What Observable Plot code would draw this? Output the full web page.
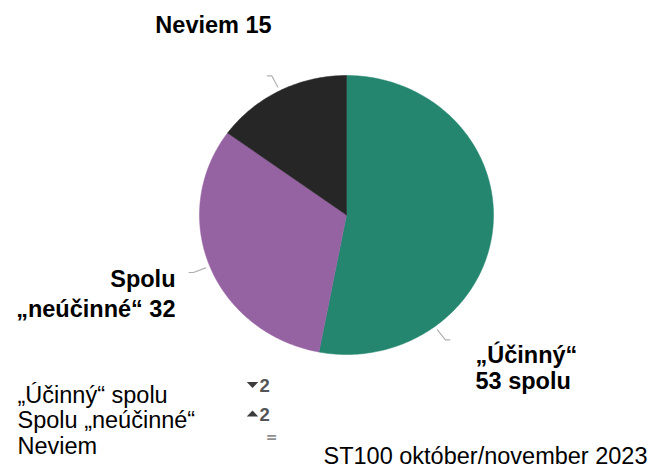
<!DOCTYPE html>
<html><head><meta charset="utf-8">
<script src="https://cdn.jsdelivr.net/npm/d3@7"></script>
<script src="https://cdn.jsdelivr.net/npm/@observablehq/plot@0.6"></script>
<style>body{margin:0;background:#fff} svg{display:block}</style>
</head><body><div id="chart"></div>
<script>
const categories = ["„Účinný“ spolu", "Spolu „neúčinné“", "Neviem"];
const values = [53, 32, 15];
const changeDirections = ["down", "up", "same"];
const changeValues = ["2", "2", "="];
const sliceLabels = ["„Účinný“\n53 spolu", "Spolu\n„neúčinné“ 32", "Neviem 15"];
const colors = ["#258670", "#9562a2", "#262626"];
const caption = "ST100 október/november 2023";
const leaderShare = [0.75, 0.5, 0.5];

const font = "'Liberation Sans', Arial, sans-serif";
const arcs = d3.pie().sort(null).value(d => d)(values);

const pts = [];
arcs.forEach((a, i) => {
  pts.push({k: categories[i], x: 0, y: 0});
  const n = Math.max(2, Math.ceil((a.endAngle - a.startAngle) / (Math.PI / 180)));
  for (let j = 0; j <= n; j++) {
    const t = a.startAngle + (a.endAngle - a.startAngle) * j / n;
    pts.push({k: categories[i], x: Math.sin(t), y: Math.cos(t)});
  }
  pts.push({k: categories[i], x: 0, y: 0});
});

const leaders = [];
arcs.forEach((a, i) => {
  const t = a.startAngle + (a.endAngle - a.startAngle) * leaderShare[i];
  const s = Math.sign(Math.sin(t));
  leaders.push({k: i, x: 1.03 * Math.sin(t), y: 1.03 * Math.cos(t)});
  leaders.push({k: i, x: 1.12 * Math.sin(t), y: 1.12 * Math.cos(t)});
  leaders.push({k: i, x: 1.12 * Math.sin(t) + 0.03 * s, y: 1.12 * Math.cos(t)});
});

const flatTriangle = dir => ({
  draw(c, size) {
    const w = Math.sqrt(size), h = w / 4 * dir;
    c.moveTo(-w / 2, -h); c.lineTo(w / 2, -h); c.lineTo(0, h); c.closePath();
  }
});

const txt = (label, opts) => Plot.text([label], {
  frameAnchor: "top-left", text: d => d, fontFamily: font, fill: "#000", ...opts
});

const arrowMarks = changeDirections.map((d, i) => d === "same" ? null :
  Plot.dot([d], {frameAnchor: "top-left", dx: 252, dy: i === 0 ? 384.5 : 413,
    symbol: flatTriangle(d === "down" ? 1 : -1), r: 6.5, fill: "#3c3c3c", stroke: null}));

const chart = Plot.plot({
  width: 656, height: 468, margin: 0,
  x: {domain: [-1, 1], range: [199, 493], axis: null},
  y: {domain: [-1, 1], range: [354, 75], axis: null},
  color: {domain: categories, range: colors},
  style: {background: "#fff", fontFamily: font},
  marks: [
    Plot.line(pts, {x: "x", y: "y", z: "k", fill: "k", stroke: "k", strokeWidth: 0.5, curve: "linear"}),
    Plot.line(leaders, {x: "x", y: "y", z: "k", stroke: "#b0b0b0", strokeWidth: 1.2}),
    txt(sliceLabels[2], {dx: 213, dy: 32, textAnchor: "middle", lineAnchor: "bottom", fontSize: 23.5, fontWeight: "bold"}),
    txt(sliceLabels[1], {dx: 175, dy: 316, textAnchor: "end", lineAnchor: "bottom", fontSize: 23.5, fontWeight: "bold", lineHeight: 1.24}),
    txt(sliceLabels[0], {dx: 475, dy: 388, textAnchor: "start", lineAnchor: "bottom", fontSize: 23.5, fontWeight: "bold", lineHeight: 1.08}),
    txt(categories.join("\n"), {dx: 17, dy: 453, textAnchor: "start", lineAnchor: "bottom", fontSize: 23.5, lineHeight: 1.07}),
    ...arrowMarks.filter(Boolean),
    txt(changeValues[0], {dx: 259, dy: 391.5, textAnchor: "start", lineAnchor: "bottom", fontSize: 18.5, fontWeight: "bold", fill: "#555"}),
    txt(changeValues[1], {dx: 259, dy: 420.5, textAnchor: "start", lineAnchor: "bottom", fontSize: 18.5, fontWeight: "bold", fill: "#555"}),
    txt(changeValues[2], {dx: 271, dy: 437, textAnchor: "middle", lineAnchor: "middle", fontSize: 14, fontWeight: "bold", fill: "#8f8f8f", fontFamily: "'DejaVu Sans', sans-serif"}),
    txt(caption, {dx: 647, dy: 463, textAnchor: "end", lineAnchor: "bottom", fontSize: 23.5})
  ]
});
document.getElementById("chart").append(chart);
</script>
</body></html>
